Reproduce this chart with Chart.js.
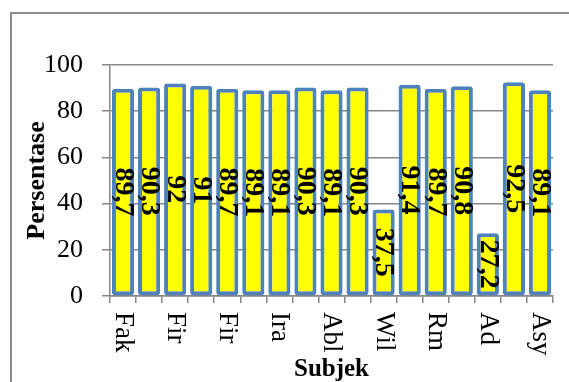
<!DOCTYPE html>
<html>
<head>
<meta charset="utf-8">
<script src="https://cdn.jsdelivr.net/npm/chart.js@4/dist/chart.umd.min.js"></script>
<style>
  html, body { margin: 0; padding: 0; background: #fff; }
  #wrap { position: relative; width: 569px; height: 382px; }
</style>
</head>
<body>
<div id="wrap"><canvas id="c" width="569" height="382"></canvas></div>
<script>
// Subjects (only every other name is printed on the axis)
const categories = ['Fak', '', 'Fir', '', 'Fir', '', 'Ira', '', 'Abl', '', 'Wil', '', 'Rm', '', 'Ad', '', 'Asy'];
// Percentage per subject
const values = [89.7, 90.3, 92, 91, 89.7, 89.1, 89.1, 90.3, 89.1, 90.3, 37.5, 91.4, 89.7, 90.8, 27.2, 92.5, 89.1];
// Y axis ticks
const yTicks = [0, 20, 40, 60, 80, 100];

const GRID = '#868686';
const SERIF = '"Liberation Serif", "DejaVu Serif", serif';

const decorations = {
  id: 'decorations',
  beforeDraw(chart) {
    const c = chart.ctx;
    c.save();
    c.strokeStyle = '#8c8c8c';
    c.lineWidth = 2;
    c.strokeRect(11, 13, 700, 500);
    c.restore();
  },
  afterDraw(chart) {
    const c = chart.ctx;
    const xs = chart.scales.x;
    c.save();
    c.fillStyle = '#000';

    // category names, rotated clockwise below the axis
    c.font = '27px ' + SERIF;
    c.textAlign = 'left';
    c.textBaseline = 'middle';
    categories.forEach((name, i) => {
      if (!name) return;
      const x = xs.getPixelForTick(i);
      c.save();
      c.translate(x, xs.top + 16);
      c.rotate(Math.PI / 2);
      c.fillText(name, 0, 0);
      c.restore();
    });

    // value labels in the middle of each bar
    c.font = 'bold 28px ' + SERIF;
    c.textAlign = 'center';
    const meta = chart.getDatasetMeta(0);
    meta.data.forEach((bar, i) => {
      const p = bar.getProps(['x', 'y', 'base'], true);
      c.save();
      c.translate(p.x, (p.y + p.base) / 2);
      c.rotate(Math.PI / 2);
      c.fillText(String(values[i]).replace('.', ','), 0, 0);
      c.restore();
    });
    c.restore();
  }
};

new Chart(document.getElementById('c'), {
  type: 'bar',
  data: {
    labels: categories,
    datasets: [{
      data: values,
      backgroundColor: '#FFFF00',
      borderColor: '#4F81BD',
      borderWidth: 4,
      borderSkipped: false,
      borderRadius: 3,
      categoryPercentage: 1,
      barPercentage: 0.85
    }]
  },
  options: {
    responsive: false,
    animation: false,
    devicePixelRatio: 1,
    layout: { padding: { top: 65, right: 16, bottom: 0, left: 0 } },
    plugins: { legend: { display: false }, tooltip: { enabled: false } },
    scales: {
      x: {
        grid: { display: true, drawOnChartArea: false, offset: true, color: GRID, lineWidth: 1.5, tickLength: 7 },
        border: { color: GRID, width: 1.5 },
        ticks: { display: false },
        title: {
          display: true, text: 'Subjek', color: '#000',
          font: { family: SERIF, weight: 'bold', size: 25 },
          padding: { top: 0, bottom: -3 }
        },
        afterFit(s) { s.height = 86; }
      },
      y: {
        min: 0, max: 100,
        afterBuildTicks(s) { s.ticks = yTicks.map(v => ({ value: v })); },
        grid: { color: GRID, lineWidth: 1.5, tickLength: 8 },
        border: { color: GRID, width: 1.5 },
        ticks: { font: { family: SERIF, size: 26 }, color: '#000', padding: 19 },
        title: {
          display: true, text: 'Persentase', color: '#000',
          font: { family: SERIF, weight: 'bold', size: 26 },
          padding: { top: 22, bottom: 0 }
        },
        afterFit(s) { s.width = 110; }
      }
    }
  },
  plugins: [decorations]
});
</script>
</body>
</html>
